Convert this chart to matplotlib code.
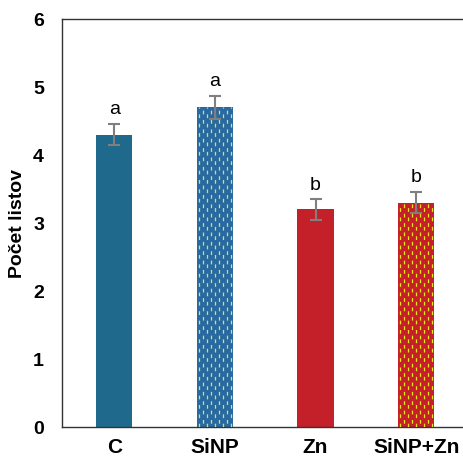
import numpy as np
import matplotlib.pyplot as plt

plt.rcParams['font.family'] = ['Liberation Sans', 'DejaVu Sans']

groups = ['C', 'SiNP', 'Zn', 'SiNP+Zn']
leaves = [4.3, 4.7, 3.2, 3.3]
err = [0.16, 0.17, 0.15, 0.16]
letters = ['a', 'a', 'b', 'b']
colors = ['#1f6a8c', '#2669a6', '#c4202a', '#c4202a']
dashed = [False, True, False, True]

fig = plt.figure(figsize=(4.64, 4.57), dpi=100)
ax = fig.add_axes([0.1336, 0.0656, 0.876, 0.8928])

x = np.arange(len(groups))
bars = ax.bar(x, leaves, width=0.36, color=colors, zorder=2)
ax.errorbar(x, leaves, yerr=err, fmt='none', ecolor='#7f7f7f',
            elinewidth=1.5, capsize=4, capthick=1.5, zorder=4)

# yellow dash fill for the SiNP treatments
for b, d in zip(bars, dashed):
    if not d:
        continue
    x0, w, h = b.get_x(), b.get_width(), b.get_height()
    xs = np.arange(x0 + 0.02, x0 + w, 0.04)
    for k, xi in enumerate(xs):
        off = 0 if k % 2 == 0 else 4.5
        ln, = ax.plot([xi, xi], [0, h], color='#e6e610', lw=0.9,
                      linestyle=(off, (3.0, 4.5)), zorder=3)
        ln.set_clip_path(b)

for xi, v, e, s in zip(x, leaves, err, letters):
    ax.text(xi, v + e + 0.08, s, ha='center', va='bottom', fontsize=14)

ax.set_xlim(-0.52, 3.52)
ax.set_ylim(0, 6)
ax.set_yticks(range(7))
ax.set_xticks(x)
ax.set_xticklabels(groups, fontsize=15, fontweight='bold')
ax.tick_params(axis='y', length=0, pad=13, labelsize=14)
ax.tick_params(axis='x', length=0, pad=8)
for t in ax.get_yticklabels():
    t.set_fontweight('bold')
ax.set_ylabel('Počet listov', fontsize=14, fontweight='bold')
ax.yaxis.set_label_coords(-0.088, 0.5)
for s in ax.spines.values():
    s.set_color('#333333')
    s.set_linewidth(1.0)

plt.savefig('out.png', dpi=100)
